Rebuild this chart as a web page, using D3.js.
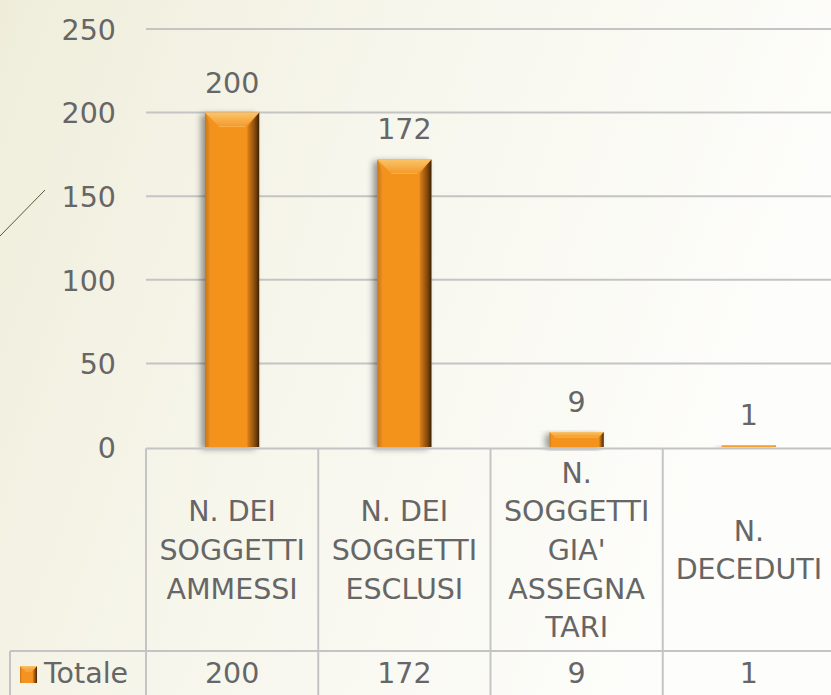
<!DOCTYPE html>
<html>
<head>
<meta charset="utf-8">
<script src="https://cdn.jsdelivr.net/npm/d3@7"></script>
<style>
  html, body { margin: 0; padding: 0; overflow: hidden; }
  svg { display: block; }
</style>
</head>
<body>
<div id="chart"></div>
<script>
var width = 831,
    height = 695,
    margin = {top: 29, left: 146, right: -4},
    plotBottom = 447,
    headerBottom = 651;

var seriesName = "Totale";
var categories = [
    ["N. DEI", "SOGGETTI", "AMMESSI"],
    ["N. DEI", "SOGGETTI", "ESCLUSI"],
    ["N.", "SOGGETTI", "GIA'", "ASSEGNA", "TARI"],
    ["N.", "DECEDUTI"]
];
var values = [200, 172, 9, 1];
var yTicks = [0, 50, 100, 150, 200, 250];

var font = "'DejaVu Sans', sans-serif";
var textColor = "#666666";
var gridColor = "#c4c4c4";
var fontSize = 28.5;

var svg = d3.select("#chart")
    .append("svg")
    .attr("width", width)
    .attr("height", height);

var defs = svg.append("defs");

var bg = defs.append("linearGradient").attr("id", "bg")
    .attr("x1", "0").attr("y1", "0").attr("x2", "1").attr("y2", "0.3");
bg.append("stop").attr("offset", "0").attr("stop-color", "#efedda");
bg.append("stop").attr("offset", "0.45").attr("stop-color", "#f7f6ec");
bg.append("stop").attr("offset", "1").attr("stop-color", "#fdfdfb");

var topGrad = defs.append("linearGradient").attr("id", "topBevel")
    .attr("x1", "0").attr("y1", "0").attr("x2", "0").attr("y2", "1");
topGrad.append("stop").attr("offset", "0").attr("stop-color", "#fbc46a");
topGrad.append("stop").attr("offset", "1").attr("stop-color", "#f39a2a");

var rightGrad = defs.append("linearGradient").attr("id", "rightBevel")
    .attr("x1", "0").attr("y1", "0").attr("x2", "1").attr("y2", "0");
rightGrad.append("stop").attr("offset", "0").attr("stop-color", "#e0821a");
rightGrad.append("stop").attr("offset", "0.6").attr("stop-color", "#8a4e0c");
rightGrad.append("stop").attr("offset", "1").attr("stop-color", "#3e2204");

var leftGrad = defs.append("linearGradient").attr("id", "leftBevel")
    .attr("x1", "0").attr("y1", "0").attr("x2", "1").attr("y2", "0");
leftGrad.append("stop").attr("offset", "0").attr("stop-color", "#c97414");
leftGrad.append("stop").attr("offset", "1").attr("stop-color", "#f19322");

var shadow = defs.append("filter").attr("id", "shadow")
    .attr("x", "-40%").attr("y", "-10%").attr("width", "160%").attr("height", "130%");
shadow.append("feDropShadow")
    .attr("dx", -4).attr("dy", 2).attr("stdDeviation", 3)
    .attr("flood-color", "#000").attr("flood-opacity", 0.4);

svg.append("rect")
    .attr("width", width).attr("height", height)
    .attr("fill", "url(#bg)");

// decorative slide line
svg.append("line")
    .attr("x1", 0).attr("y1", 236).attr("x2", 45).attr("y2", 190)
    .attr("stroke", "#4d5e3c").attr("stroke-width", 1);

var xScale = d3.scaleBand()
    .domain(d3.range(categories.length))
    .range([margin.left, width - margin.right])
    .padding(0);

var yScale = d3.scaleLinear()
    .domain([0, 250])
    .range([plotBottom, margin.top]);

// gridlines
svg.append("g")
    .selectAll("line")
    .data(yTicks.filter(function(d) { return d > 0; }))
    .enter().append("line")
    .attr("x1", margin.left).attr("x2", width)
    .attr("y1", function(d) { return yScale(d); })
    .attr("y2", function(d) { return yScale(d); })
    .attr("stroke", gridColor)
    .attr("stroke-width", 2);

// y axis labels
var yAxis = svg.append("g")
    .attr("transform", "translate(" + (margin.left - 30) + ",0)")
    .call(d3.axisLeft(yScale).tickValues(yTicks).tickSize(0).tickPadding(0));
yAxis.select(".domain").remove();
yAxis.selectAll("text")
    .attr("fill", textColor)
    .attr("font-family", font)
    .attr("font-size", fontSize)
    .attr("dy", "0.36em");

// bars
var barRatio = 0.314;
function drawBar(g, x0, x1, y0, y1, b) {
    var w = x1 - x0;
    g.append("rect")
        .attr("x", x0).attr("y", y0)
        .attr("width", w).attr("height", y1 - y0)
        .attr("fill", "#f4931f");
    g.append("polygon")
        .attr("points", [[x0, y0], [x0 + b * 0.4, y0 + b], [x0 + b * 0.4, y1], [x0, y1]].join(" "))
        .attr("fill", "url(#leftBevel)");
    g.append("polygon")
        .attr("points", [[x1, y0], [x1, y1], [x1 - b * 0.85, y1], [x1 - b * 0.85, y0 + b]].join(" "))
        .attr("fill", "url(#rightBevel)");
    g.append("polygon")
        .attr("points", [[x0, y0], [x1, y0], [x1 - b, y0 + b], [x0 + b, y0 + b]].join(" "))
        .attr("fill", "url(#topBevel)");
    g.append("line")
        .attr("x1", x0 + b).attr("x2", x1 - b)
        .attr("y1", y0 + b).attr("y2", y0 + b)
        .attr("stroke", "#fbb04a").attr("stroke-width", 1);
}

var bars = svg.append("g");
values.forEach(function(v, i) {
    var bw = xScale.bandwidth() * barRatio;
    var cx = xScale(i) + xScale.bandwidth() / 2;
    var y0 = yScale(v), y1 = yScale(0);
    var h = y1 - y0;
    var g = bars.append("g").attr("filter", "url(#shadow)");
    drawBar(g, cx - bw / 2, cx + bw / 2, y0, y1, Math.min(14, h * 0.35));

    svg.append("text")
        .attr("x", cx)
        .attr("y", y0 - 20)
        .attr("text-anchor", "middle")
        .attr("fill", textColor)
        .attr("font-family", font)
        .attr("font-size", fontSize)
        .text(v);
});

// data table
var table = svg.append("g")
    .attr("stroke", gridColor)
    .attr("stroke-width", 2);
table.append("line")
    .attr("x1", margin.left).attr("x2", width)
    .attr("y1", plotBottom + 1.5).attr("y2", plotBottom + 1.5);
table.append("line")
    .attr("x1", 10).attr("x2", width)
    .attr("y1", headerBottom).attr("y2", headerBottom);
table.append("line")
    .attr("x1", 10).attr("x2", 10)
    .attr("y1", headerBottom).attr("y2", height);
table.selectAll(".vline")
    .data(d3.range(categories.length))
    .enter().append("line")
    .attr("x1", function(d) { return xScale(d); })
    .attr("x2", function(d) { return xScale(d); })
    .attr("y1", plotBottom + 1.5).attr("y2", height);

var lineH = 38.6;
var headerMid = (plotBottom + headerBottom) / 2 + 1;
categories.forEach(function(lines, i) {
    var cx = xScale(i) + xScale.bandwidth() / 2;
    var t = svg.append("text")
        .attr("text-anchor", "middle")
        .attr("fill", textColor)
        .attr("font-family", font)
        .attr("font-size", fontSize);
    lines.forEach(function(s, j) {
        t.append("tspan")
            .attr("x", cx)
            .attr("y", headerMid + 10 + (j - (lines.length - 1) / 2) * lineH)
            .text(s);
    });
    svg.append("text")
        .attr("x", cx)
        .attr("y", 683)
        .attr("text-anchor", "middle")
        .attr("fill", textColor)
        .attr("font-family", font)
        .attr("font-size", fontSize)
        .text(values[i]);
});

// legend key
var key = svg.append("g");
drawBar(key, 20, 37, 666, 683, 5);
svg.append("text")
    .attr("x", 44)
    .attr("y", 683)
    .attr("fill", textColor)
    .attr("font-family", font)
    .attr("font-size", fontSize)
    .text(seriesName);
</script>
</body>
</html>
